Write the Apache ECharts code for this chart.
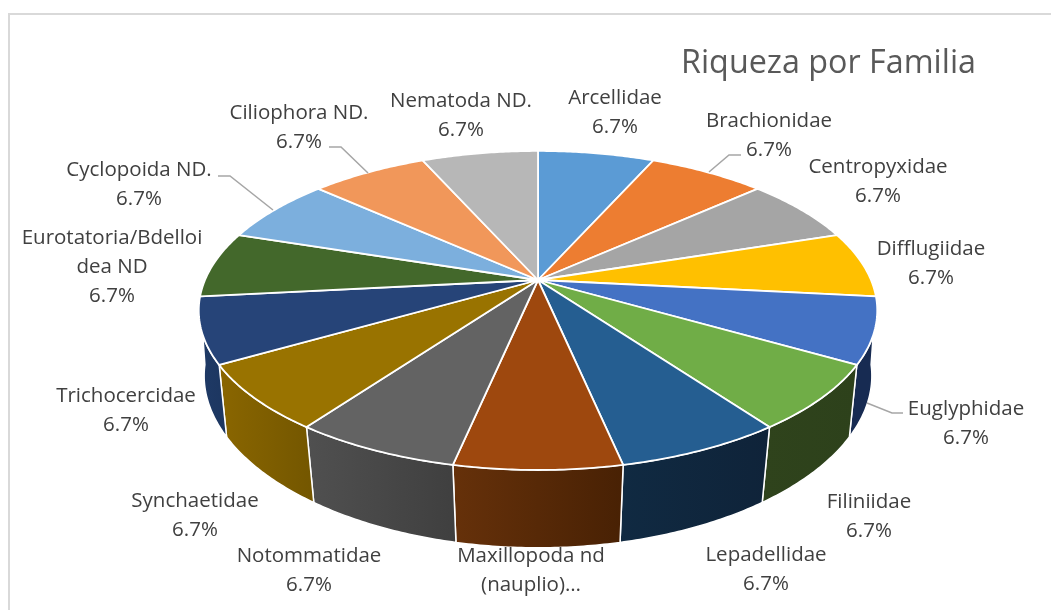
<!DOCTYPE html>
<html>
<head>
<meta charset="utf-8">
<style>html,body{margin:0;padding:0;background:#fff}#c{width:1051px;height:610px}</style>
<script src="https://cdn.jsdelivr.net/npm/echarts@6/dist/echarts.min.js"></script>
</head>
<body>
<div id="c"></div>
<script>
// ---- data ----
const categories = ['Arcellidae','Brachionidae','Centropyxidae','Difflugiidae','Euglyphidae','Filiniidae','Lepadellidae','Maxillopoda nd (nauplio)','Notommatidae','Synchaetidae','Trichocercidae','Eurotatoria/Bdelloidea ND','Cyclopoida ND.','Ciliophora ND.','Nematoda ND.'];
const values = [1,1,1,1,1,1,1,1,1,1,1,1,1,1,1];
const titleText = 'Riqueza por Familia';

// ---- styles ----
const colors = ['#5B9BD5','#ED7D31','#A5A5A5','#FFC000','#4472C4','#70AD47','#255E91','#9E480E','#636363','#997300','#264478','#43682B','#7CAFDD','#F1975A','#B7B7B7'];
const wallColors = {
  4:['#172B52','#172B52'], 5:['#2F431C','#2D411B'], 6:['#102A42','#0F2339'],
  7:['#66310A','#482104'], 8:['#505050','#3F3F3F'], 9:['#8A6600','#735600'], 10:['#1F3A66','#1C3660']
};
// label layout: text centre of first line, pixels
const labelAt = [[615,97],[769,120],[878,166],[931,248],[966,408],[869,501],[766,554],[531,555],[309,555],[195,500],[126,395],[112,237],[139,169],[299,112],[461,100]];
const labelLines = {
  7:'Maxillopoda nd\n(nauplio)…',
  11:'Eurotatoria/Bdelloi\ndea ND'
};
const leaders = {
  1:[[709,172],[729,155],[741,155]],
  4:[[867,403],[892,413],[903,413]],
  12:[[218,176],[230,176],[273,210]],
  13:[[329,147],[341,147],[368,173]]
};
// perspective model of the disc
const P = {cx:538, cy:280, R:333, B:153.7, k:0.191, botR:329, botK:0.17, botCy:347.3, botB:162.2};
const total = values.reduce((a,b)=>a+b,0);
const startAngles = []; values.reduce((acc,v,i)=>{startAngles[i]=acc/total*360;return acc+v;},0);
const rad = d => d*Math.PI/180;
function topRim(d){const s=Math.sin(rad(d)),c=Math.cos(rad(d)),w=1+P.k*c;return [P.cx+P.R*s/w,P.cy-P.B*c/w];}
function botRim(d){const s=Math.sin(rad(d)),c=Math.cos(rad(d)),w=1+P.k*c,wb=1+P.botK*c;return [P.cx+P.botR*s/wb,P.botCy-P.botB*c/w];}
function arc(fn,a,b){const pts=[],n=40;for(let i=0;i<=n;i++)pts.push(fn(a+(b-a)*i/n));return pts;}
function range(i,v){const a=startAngles[i];return [a,a+v/total*360];}

function renderWall(params,api){
  const i=params.dataIndex,[a,b]=range(i,api.value(0)),mid=(a+b)/2;
  if(Math.cos(rad(mid))>=0) return {type:'group',children:[]};
  const pts=arc(topRim,a,b).concat(arc(botRim,a,b).reverse());
  const w=wallColors[i];
  return {type:'polygon',shape:{points:pts},style:{
    fill:{type:'linear',x:0,y:0,x2:1,y2:0,colorStops:[{offset:0,color:w[0]},{offset:1,color:w[1]}]},
    stroke:'#fff',lineWidth:1.5,lineJoin:'round'}};
}
function renderTop(params,api){
  const i=params.dataIndex,[a,b]=range(i,api.value(0));
  const pts=[[P.cx,P.cy]].concat(arc(topRim,a,b));
  return {type:'polygon',shape:{points:pts},style:{fill:colors[i],stroke:'#fff',lineWidth:1.8,lineJoin:'round'}};
}
function renderLabel(params,api){
  const i=params.dataIndex,v=api.value(0),pos=labelAt[i],kids=[];
  const nm=labelLines[i]||categories[i];
  const txt=nm.endsWith('…')?nm:nm+'\n'+(v/total*100).toFixed(1)+'%';
  if(leaders[i]) kids.push({type:'polyline',shape:{points:leaders[i]},style:{fill:'none',stroke:'#A6A6A6',lineWidth:1.5}});
  kids.push({type:'text',x:pos[0],y:pos[1]-13,style:{text:txt,fill:'#404040',font:'20.5px "Open Sans"',align:'center',verticalAlign:'top',lineHeight:29}});
  return {type:'group',children:kids};
}
const seriesData = values.map(v=>[v]);
const chart = echarts.init(document.getElementById('c'),null,{renderer:'canvas'});
chart.setOption({
  animation:false,
  backgroundColor:'#fff',
  title:{text:titleText,right:70,top:43,textStyle:{fontFamily:'Open Sans',fontSize:32.3,fontWeight:'normal',color:'#595959'}},
  graphic:[{type:'polyline',silent:true,shape:{points:[[9,610],[9,14],[1051,14]]},style:{fill:'none',stroke:'#D9D9D9',lineWidth:2}}],
  series:[
    {type:'custom',name:'walls',coordinateSystem:'none',renderItem:renderWall,data:seriesData,z:2,silent:true,clip:false},
    {type:'custom',name:'tops',coordinateSystem:'none',renderItem:renderTop,data:seriesData,z:3,silent:true,clip:false},
    {type:'custom',name:'labels',coordinateSystem:'none',renderItem:renderLabel,data:seriesData,z:4,silent:true,clip:false}
  ]
});
</script>
</body>
</html>
